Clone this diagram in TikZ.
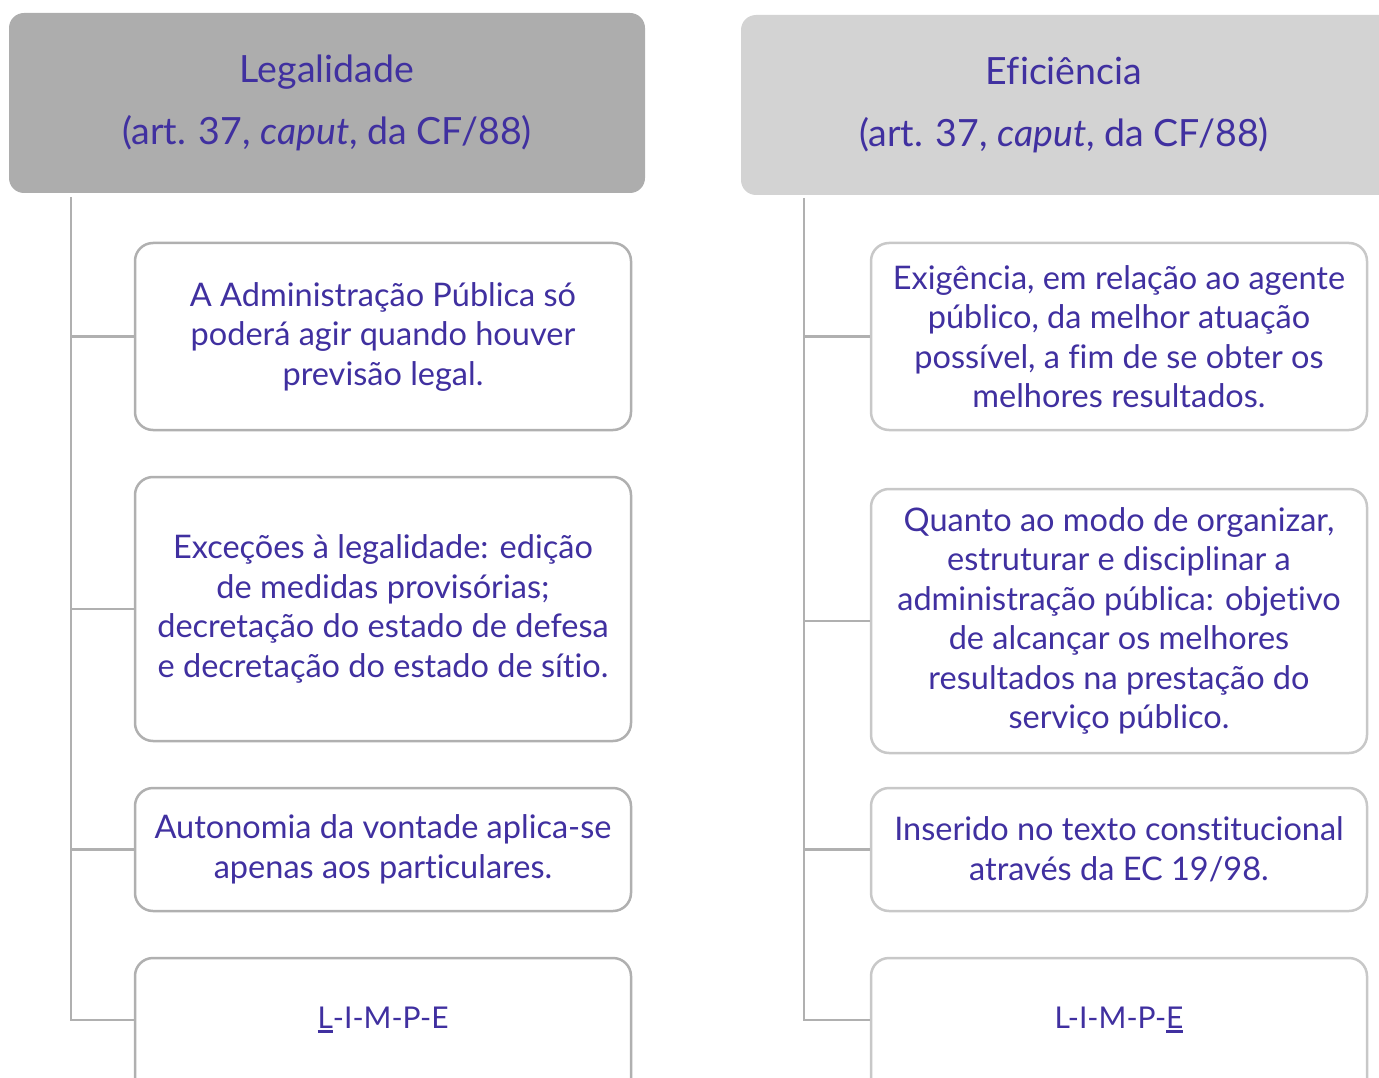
\documentclass[tikz,border=0pt]{standalone}
\usepackage{fontspec}
\setmainfont{Lato}[Ligatures=NoCommon]
\definecolor{ink}{RGB}{64,48,160}
\definecolor{hdrL}{HTML}{ADADAD}
\definecolor{hdrR}{HTML}{D3D3D3}
\definecolor{lnL}{HTML}{B0B0B0}
\definecolor{lnR}{HTML}{C8C8C8}
\newcommand{\thickul}[1]{\setbox0\hbox{#1}\rlap{\raisebox{-4.5pt}{\rule{\wd0}{2.6pt}}}\box0}
\begin{document}
\begin{tikzpicture}[x=1pt,y=-1pt,
  hdr/.style={rounded corners=15pt, minimum width=636pt, minimum height=180pt, text=ink, align=center,
     font=\fontsize{37.5}{62}\selectfont, inner sep=0pt},
  bx/.style={draw, line width=2.5pt, rounded corners=18pt, fill=white, minimum width=496pt, inner sep=0pt, text=ink, align=center,
     font=\fontsize{32.5}{39.5}\selectfont},
  txt/.style={text=ink, align=center, font=\fontsize{30}{39.5}\selectfont, inner sep=0pt},
  conL/.style={draw=lnL, line width=2.5pt}]
\useasboundingbox (0,0) rectangle (1379,1078);
\clip (0,0) rectangle (1379,1078);

% headers
\node[hdr, fill=hdrL] (hL) at (327,103) {Legalidade\\(art. 37, \textit{caput}, da CF/88)};
\node[hdr, fill=hdrR, minimum width=660pt] (hR) at (1071,105) {};
\node[text=ink, align=center, font=\fontsize{37.5}{62}\selectfont, inner sep=0pt] (hRt) at (1064,105) {Eficiência\\(art. 37, \textit{caput}, da CF/88)};

% left boxes
\node[bx, draw=lnL, minimum height=187pt] (l1) at (383,336.5) {A Administração Pública só\\poderá agir quando houver\\previsão legal.};
\node[bx, draw=lnL, minimum height=264pt] (l2) at (383,609) {Exceções à legalidade: edição\\de medidas provisórias;\\decretação do estado de defesa\\e decretação do estado de sítio.};
\node[bx, draw=lnL, minimum height=123pt] (l3) at (383,849.5) {Autonomia da vontade aplica-se\\apenas aos particulares.};
\node[bx, draw=lnL, minimum height=150pt] (l4) at (383,1033) {};
\node[txt] (l4t) at (383,1020) {\thickul{L}-I-M-P-E};

% right boxes
\node[bx, draw=lnR, minimum height=187pt] (r1) at (1119,336.5) {Exigência, em relação ao agente\\público, da melhor atuação\\possível, a fim de se obter os\\melhores resultados.};
\node[bx, draw=lnR, minimum height=264pt] (r2) at (1119,621) {Quanto ao modo de organizar,\\estruturar e disciplinar a\\administração pública: objetivo\\de alcançar os melhores\\resultados na prestação do\\serviço público.};
\node[bx, draw=lnR, minimum height=123pt] (r3) at (1119,849.5) {Inserido no texto constitucional\\através da EC 19/98.};
\node[bx, draw=lnR, minimum height=150pt] (r4) at (1119,1033) {};
\node[txt] (r4t) at (1119,1020) {L-I-M-P-\thickul{E}};

% connectors
\coordinate (tl) at (71,197);
\coordinate (tr) at (804,198);
\draw[conL] (tl) |- (l4.west |- l4t);
\draw[conL] (71,336.5) -- (l1.west);
\draw[conL] (71,609) -- (l2.west);
\draw[conL] (71,849.5) -- (l3.west);
\draw[conL] (tr) |- (r4.west |- r4t);
\draw[conL] (804,336.5) -- (r1.west);
\draw[conL] (804,621) -- (r2.west);
\draw[conL] (804,849.5) -- (r3.west);
\end{tikzpicture}
\end{document}
